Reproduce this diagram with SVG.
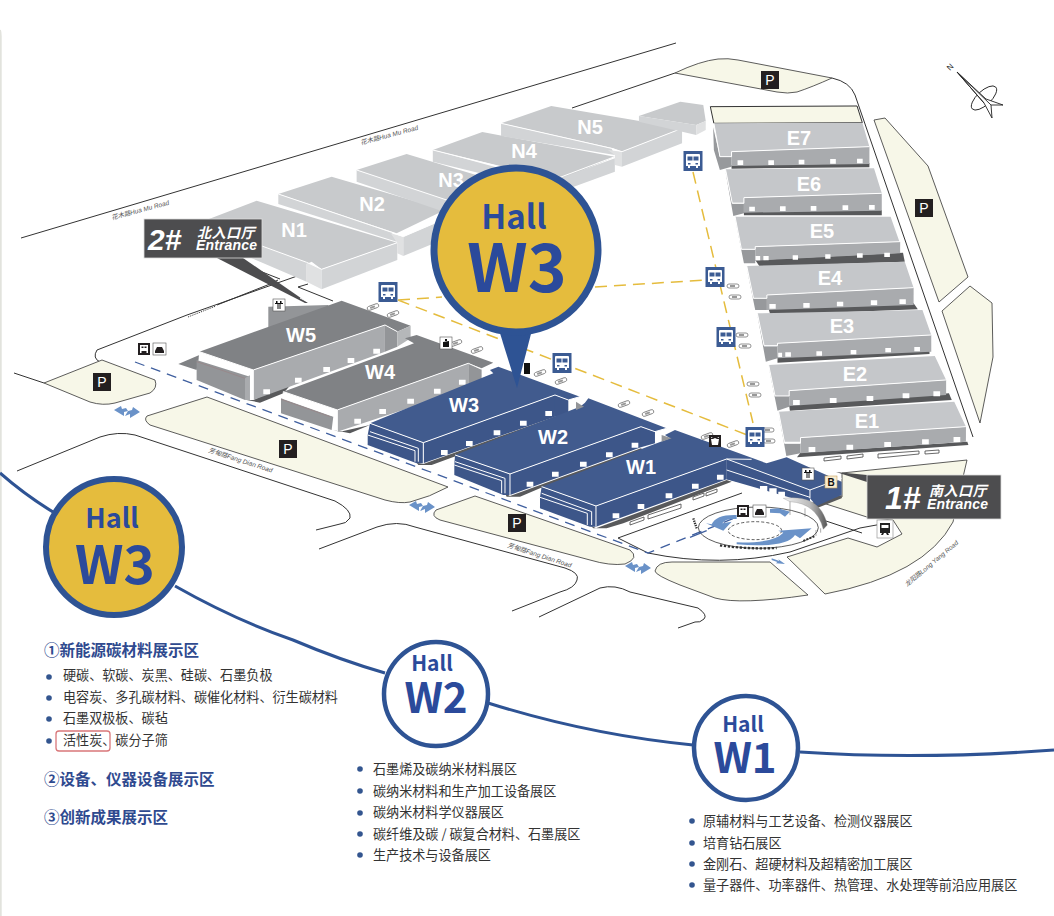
<svg xmlns="http://www.w3.org/2000/svg" width="1054" height="916" viewBox="0 0 1054 916">
<style>
.rd{fill:none;stroke:#333;stroke-width:1;vector-effect:non-scaling-stroke}
.lot{fill:#f7f7e8;stroke:#333;stroke-width:.8;vector-effect:non-scaling-stroke}
.hl{fill:none;stroke:#fff;stroke-width:1;vector-effect:non-scaling-stroke}
.ntop{fill:#c8cacc}.nfr{fill:#d2d4d6}.nst{fill:#e0e1e2}
.etop{fill:#c5c7ca}.efr{fill:#a9abae}.esd{fill:#97999c}.esh{fill:#58595b}
.wtop{fill:#808285}.wfr{fill:#a9abae}.wsd{fill:#939598}
.btop{fill:#415b8e}.bfr{fill:#3d5689}
.win{fill:#fff}
.lb{font:bold 20px "Liberation Sans",Arial,sans-serif;fill:#fff;text-anchor:middle}
.rn{font:italic 6.5px "Liberation Sans","Noto Sans CJK SC",sans-serif;fill:#555}
.t{font:13.100px "Noto Sans CJK SC",sans-serif;fill:#333}
.h{font:bold 15.500px "Noto Sans CJK SC",sans-serif;fill:#2f4a8f}
.hall{font-family:"Noto Sans CJK SC",sans-serif;font-weight:700;fill:#2b4a9b;text-anchor:middle}
.code{font-family:"Noto Sans CJK SC",sans-serif;font-weight:700;fill:#2b4a9b;text-anchor:middle}
.dot{fill:#33558f}
.ent{fill:#fff;font-style:italic;font-weight:bold;font-family:"Liberation Sans","Noto Sans CJK SC",sans-serif}
.ydash{fill:none;stroke:#e5bc3d;stroke-width:1.5;stroke-dasharray:12 7}
.pt{font:14px "Liberation Sans",Arial,sans-serif;fill:#fff;text-anchor:middle}
</style>
<defs>
<g id="bus"><rect x="-9.500" y="-10" width="19" height="20" fill="#3b5b93"/><path d="M-6-7h12q1 0 1 1v11h-2v2h-2v-2h-6v2h-2v-2h-2V-6q0-1 1-1z" fill="#fff"/><path d="M-5.500-4.500h5v4h-5zM.5-4.500h5v4h-5zM-5 2h2.500v1.500h-2.500zM2.500 2h2.500v1.500H2.500z" fill="#3b5b93"/></g>
<g id="pk"><rect x="-9" y="-9" width="18" height="18" fill="#231f20"/><text class="pt" y="5">P</text></g>
<g id="car"><rect x="-6" y="-2" width="12" height="4" rx="2" fill="#fff" stroke="#777" stroke-width=".8"/><rect x="-3" y="-1" width="5" height="2" fill="#999"/></g>
<path id="arr" d="M-13-2L-6-6L-5-3L-1-4L1-1L-3 0L-3 4ZM13 0L6-5L5-2L1-1L-2 4L3 2L3 6Z" fill="#6a92c8"/>
<linearGradient id="arc" x1="0" x2="1" y1="0" y2="0"><stop offset="0" stop-color="#f2f2f2"/><stop offset=".6" stop-color="#bbb"/><stop offset="1" stop-color="#555"/></linearGradient>
</defs>
<rect width="1054" height="916" fill="#fff"/>
<path d="M.8 916V36Q.8 32 0 30" fill="none" stroke="#e2e3dd" stroke-width="1.800"/>

<g id="roads">
<path class="rd" d="M21 238L676 43M572 108L675 73"/>
<path class="lot" d="M675 73Q700 61 718 59Q728 58 738 60L832 78Q812 87 797 92Q788 94 777 92Z"/>
<path class="rd" d="M832 78Q850 82 855 95L973 437"/>
<path class="rd" d="M187 315L97 350Q92 358 100 362L155 385M217 305L270 284M187 315L300 275M298 287L333 301M298 287L308 284M252 268L280 279M270 284L278 280"/>
<path class="rd" stroke-dasharray="1 1" d="M188 317L216 306"/>
<path class="rd" d="M14 373L44 383"/>
<path class="lot" d="M44 383L102 360L155 380Q158 388 150 393L115 403Q103 406 90 402Z"/>
<path class="lot" d="M207 397L448 487Q430 497 410 502Q400 504 385 500L150 425Q143 420 147 416Z"/>
<path class="rd" d="M17 471L100 437Q118 431 135 435L335 501Q352 510 350 518Q346 524 340 524L316 530"/>
<path class="rd" d="M319 549L377 527Q397 520 415 527L565 568Q580 573 577 580Q575 588 560 592L512 611"/>
<path class="lot" d="M475 496L436 510Q430 516 440 520L590 560Q610 566 625 564Q640 558 630 550Z"/>
<path class="rd" d="M539 617L600 588Q615 584 630 592L698 608Q708 615 704 619Q700 623 695 622L678 628"/>
<path class="lot" d="M655 571Q657 562 672 562L770 562L808 595Q740 605 715 598L680 585Q655 575 655 571Z"/>
<path class="lot" d="M787 557L848 538L877 547L902 534L893 520L870 518L823 503L842 497L842 473L967 460L960 490L953 522Q925 575 825 594Z"/>
<path class="rd" d="M618 538L742 493M618 538L648 553M648 553Q720 568 790 552L860 528L893 522"/>
<path class="rd" d="M823 520L862 533"/>
<path class="lot" d="M874 120L885 118L928 166L968 277L939 302Z"/>
<path class="lot" d="M970 286L992 303L993 357L980 423L942 311Z"/>
<path fill="none" stroke="#3f5f9f" stroke-width="1.300" stroke-dasharray="10 7" d="M135 362L648 553L737 517"/>
</g>

<g id="bus-routes"><path class="ydash" d="M398 300L442 297M398 300L750 436M595 287L705 280M693 172L753 423"/></g>

<g id="hall-N1" transform="translate(0 60) scale(.3333)">
<path class="ntop" d="M625 478L770 422L1192 548L965 628L935 605L920 612L625 505Z"/>
<path class="nfr" d="M625 500L920 607V665L780 605L625 540Z"/>
<path class="nst" d="M920 607L965 628V688L920 665Z"/>
<path class="nfr" d="M965 628L1192 548V600L965 688Z"/>
<path class="hl" d="M640 505L920 607L965 628L1192 548"/></g>
<g id="hall-N2" transform="translate(0 60) scale(.3333)">
<path class="ntop" d="M835 402L995 350L1335 450L1190 520Z"/>
<path class="nfr" d="M835 402L1175 517L1190 545L835 432Z"/>
<path class="nst" d="M1172 520L1210 530V588L1192 580V548Z"/>
<path class="nfr" d="M1210 530L1350 470V530L1210 588Z"/>
<path class="hl" d="M835 402L1175 517L1210 530L1350 470"/></g>
<g id="hall-N3" transform="translate(0 60) scale(.3333)">
<path class="ntop" d="M1070 330L1220 282L1560 385L1400 450Z"/>
<path class="nfr" d="M1070 330L1400 440L1360 465L1070 365Z"/>
<path class="hl" d="M1070 330L1400 440"/></g>
<g id="hall-N4" transform="translate(500 40) scale(.3535 .3333)">
<path class="ntop" d="M-190 330L-50 276L325 350L170 420Z"/>
<path class="nfr" d="M-190 330L140 425L100 440L-190 365Z"/>
<path class="nfr" d="M170 415L325 355V395L170 455Z"/>
<path class="hl" d="M-190 330L150 420L325 350"/></g>
<g id="hall-N5" transform="translate(500 40) scale(.3535 .3333)">
<path class="ntop" d="M3 250L145 198L515 265L345 335L320 325Z"/>
<path class="nfr" d="M3 250L315 325L325 345L3 288Z"/>
<path class="nst" d="M305 330L345 335V380L325 375V345Z"/>
<path class="nfr" d="M345 335L515 265V310L345 380Z"/>
<path class="hl" d="M3 250L315 325L345 335L515 265"/></g>
<g id="annex-N" transform="translate(500 40) scale(.3535 .3333)">
<path class="ntop" d="M393 228L510 185L575 195L582 243L555 255Z"/>
<path class="nfr" d="M393 228L555 255V285L393 245Z"/>
<path class="nst" d="M555 255L582 243V270L555 285Z"/></g>

<g id="E-halls" transform="translate(500 40) scale(.3535 .3333)">
<path d="M595 200L1010 198L1025 248L605 250Z" fill="#f7f7e8" stroke="#333" stroke-width="1" vector-effect="non-scaling-stroke"/>
<g id="hall-E7"><path class="esd" d="M603 262L622 350H655V380L622 390L605 330Z"/><path class="esh" d="M655 376L1045 370V382L655 386Z"/><path class="efr" d="M655 335L1045 320V372L655 378Z"/><path class="etop" d="M605 250L1025 248L1045 320L655 335V350H622Z"/><path class="hl" d="M605 250L622 350H655V335L1045 320"/></g>
<g id="hall-E6"><path class="esd" d="M638 395L657 490H690V520L660 528Z"/><path class="esh" d="M690 515L1080 510V526L690 526Z"/><path class="efr" d="M690 473L1080 460V512L690 518Z"/><path class="etop" d="M638 388L1058 385L1080 460L690 473V488H657Z"/><path class="hl" d="M638 388L657 490H690V473L1080 460"/></g>
<g id="hall-E5"><path class="esd" d="M665 535L683 628H722V670H690Z"/><path class="esh" d="M722 660L1140 638L1145 665L735 680Z"/><path class="efr" d="M722 620L1132 605V640L722 662Z"/><path class="etop" d="M665 530L1105 530L1130 605L722 620V630H683Z"/><path class="hl" d="M665 530L683 628H722V620L1132 605"/></g>
<g id="hall-E4"><path class="esd" d="M698 685L717 775H755V810H722Z"/><path class="esh" d="M760 808L1170 790L1182 808L765 825Z"/><path class="efr" d="M755 765L1170 743V795L755 810Z"/><path class="etop" d="M698 678L1145 665L1170 743L755 765V775H717Z"/><path class="hl" d="M698 678L717 775H755V765L1170 743"/></g>
<g id="hall-E3"><path class="esd" d="M728 825L747 917H785V955L752 965Z"/><path class="esh" d="M785 950L1215 932V942L785 968Z"/><path class="efr" d="M785 910L1220 885V935L785 955Z"/><path class="etop" d="M728 820L1195 810L1220 885L785 910V920H747Z"/><path class="hl" d="M728 820L747 917H785V910L1220 885"/></g>
<g id="hall-E2"><path class="esd" d="M760 980L778 1068H818V1100L785 1112Z"/><path class="esh" d="M818 1095L1270 1060L1278 1080L820 1112Z"/><path class="efr" d="M818 1052L1262 1020V1065L818 1098Z"/><path class="etop" d="M760 975L1230 948L1262 1020L818 1052V1068H778Z"/><path class="hl" d="M760 975L778 1068H818V1052L1262 1020"/></g>
<g id="hall-E1"><path class="esd" d="M788 1120L805 1210H850V1240L810 1248Z"/><path class="esh" d="M850 1238L1322 1205L1325 1215L840 1252Z"/><path class="efr" d="M850 1193L1318 1160V1205L850 1240Z"/><path class="etop" d="M788 1115L1285 1085L1318 1160L850 1193V1205H805Z"/><path class="hl" d="M788 1115L805 1210H850V1193L1318 1160"/></g>
<path class="win" d="M672 361h16v14h-16zM759 361h16v14h-16zM845 359h16v14h-16zM934 357h16v14h-16zM1010 356h16v14h-16zM705 500h16v14h-16zM792 499h16v14h-16zM879 498h16v14h-16zM969 496h16v14h-16zM1044 495h16v14h-16zM723 648h13v13h-13zM745 648h15v13h-15zM828 646h15v13h-15zM920 643h15v13h-15zM1010 640h16v13h-16zM1087 638h16v13h-16zM762 792h18v14h-18zM858 789h18v14h-18zM953 785h18v14h-18zM1049 781h18v14h-18zM1130 778h18v14h-18zM787 938h11v13h-11zM807 937h16v13h-16zM895 934h16v13h-16zM992 930h16v13h-16zM1090 924h16v13h-16zM1172 921h16v13h-16zM829 1080h19v15h-19zM933 1074h19v15h-19zM1037 1068h19v15h-19zM1139 1060h19v15h-19zM1226 1054h19v15h-19zM873 1221h19v15h-19zM980 1214h19v15h-19zM1087 1206h19v15h-19zM1194 1198h19v15h-19zM1283 1191h19v15h-19z"/>
</g>
<g id="apron" fill="#fff" stroke="#444" stroke-width=".8"><path d="M824 458l17-2v3l-17 2zM847 456l16-2v3l-16 2zM878 454l41-3v3l-41 4zM925 451l14-1v3l-14 1z"/><path d="M630 522l14-5 0 3-14 5zM648 515l33-11v4l-33 11zM693 497l11-4 0 3-11 4zM706 493l11-4 0 3-11 4z"/></g>

<g id="hall-W5" transform="translate(0 60) scale(.3333)">
<path class="wsd" d="M805 740L985 735V780L805 810Z"/>
<path class="wtop" d="M535 912L598 885L590 930Z"/>
<path fill="#58595b" d="M740 1020L760 1020L885 960L850 1000L780 1028Z"/>
<path class="wtop" d="M598 875L1025 722L1232 797L1192 815L1155 795L760 930Z"/>
<path class="wfr" d="M760 930L1155 795V875L760 1020Z"/>
<path class="wsd" d="M1155 795L1192 815V860L1155 875Z"/>
<path fill="#b5b7b9" d="M1192 815L1232 797V835L1192 860Z"/>
<path class="wsd" d="M590 900L750 950L735 1020L590 960Z"/>
<path fill="none" stroke="#a55" stroke-width=".6" d="M590 905L735 955"/>
<path class="wfr" d="M735 955L750 945V1020H735Z"/>
<path class="hl" d="M598 875L760 930L1155 795L1192 815M760 930V1020M598 875V895L750 945"/>
<path class="win" d="M790 988h20v15h-20zM885 953h20v15h-20zM970 921h20v15h-20zM1043 894h20v15h-20zM1120 866h20v15h-20z"/></g>
<g id="hall-W4" transform="translate(0 60) scale(.3333)">
<path fill="#58595b" d="M1000 1110L1020 1115L1110 1095L1050 1120Z"/>
<path class="wtop" d="M850 995L1215 860L1242 850L1215 835L1250 825L1480 908L1445 925L1405 910L1012 1050Z"/>
<path class="wfr" d="M1012 1050L1405 910V985L1012 1115Z"/>
<path class="wsd" d="M1405 910L1445 928V960L1405 985Z"/>
<path class="wsd" d="M843 1015L1000 1070L995 1110L843 1060Z"/>
<path fill="none" stroke="#a55" stroke-width=".6" d="M843 1018L990 1070"/>
<path class="hl" d="M850 995L1012 1050L1405 910L1445 928M1012 1050V1115M850 995V1015L1000 1068"/>
<path class="win" d="M1063 1076h20v15h-20zM1138 1047h20v15h-20zM1222 1016h20v15h-20zM1302 986h20v15h-20zM1377 959h20v15h-20z"/></g>
<g id="hall-W3" transform="translate(360 360) scale(.3333)">
<path fill="#58595b" d="M170 308L190 312L585 170L590 178L270 295L215 315H175Z"/>
<path class="btop" d="M30 190L400 40L390 30L415 20L660 110L625 120L585 105L190 248Z"/>
<path class="bfr" d="M190 248L585 105V170L190 310Z"/>
<path class="bfr" d="M585 105L625 120V170L585 170Z"/>
<path class="bfr" d="M23 225L30 190L190 248V310H170L23 255Z"/>
<path class="hl" d="M30 190L190 248L585 105L625 120L660 110M190 248V310M30 215L175 265M23 225L165 272V305M175 265V305"/>
<path class="win" d="M243 270h20v15h-20zM318 243h20v15h-20zM401 211h20v15h-20zM480 182h20v15h-20zM556 153h20v15h-20z"/></g>
<g id="hall-W2" transform="translate(360 360) scale(.3333)">
<path fill="#58595b" d="M435 400L450 408L843 265L850 270L540 385L480 410H440Z"/>
<path class="btop" d="M285 285L660 140L675 128L685 115L920 205L885 215L843 200L450 342Z"/>
<path fill="#939598" d="M648 125L672 140L648 150Z"/>
<path class="bfr" d="M450 342L843 200V262L450 405Z"/>
<path class="bfr" d="M843 200L885 215V250L843 262Z"/>
<path class="bfr" d="M283 315L285 285L450 342V405H430L283 345Z"/>
<path class="hl" d="M285 285L450 342L843 200L885 215L920 205M450 342V405M285 305L435 355M283 315L425 362V400M435 355V400"/>
<path class="win" d="M500 365h20v15h-20zM576 335h20v15h-20zM660 305h20v15h-20zM738 277h20v15h-20zM815 248h20v15h-20z"/></g>
<g id="hall-W1" transform="translate(360 360) scale(.3333)">
<path fill="#58595b" d="M690 495L708 505L1100 360L1115 365L790 490L740 505H700Z"/>
<path fill="#58595b" d="M1350 430L1445 405V415L1370 445Z"/>
<path class="btop" d="M545 380L930 235L915 225L945 210L1220 310L1280 292L1445 365V405L1370 438L1350 415L1100 358V297L708 438Z"/>
<path fill="#939598" d="M905 225L935 235L905 245Z"/>
<path class="bfr" d="M708 438L1100 297V358L708 500Z"/>
<path class="bfr" d="M540 412L545 380L708 438V500H690L540 445Z"/>
<path class="bfr" d="M1100 297L1350 390V430L1100 358Z"/>
<path class="hl" d="M545 380L708 438L1100 297L1350 390L1445 355M1350 390V415M708 438V500M545 400L695 455M540 412L682 460V495M695 455V495M1100 330L1350 412M1100 297L1175 298"/>
<path class="win" d="M758 460h20v15h-20zM833 432h20v15h-20zM917 400h20v15h-20zM996 371h20v15h-20zM1071 344h20v15h-20zM1200 378h22v20h-22zM1228 385h22v20h-22zM1255 395h20v18h-20z"/></g>

<g id="roundabout" transform="translate(690 460) scale(.3333)">
<ellipse cx="205" cy="203" rx="180" ry="62" fill="none" stroke="#333" stroke-width="2.400"/>
<ellipse cx="195" cy="212" rx="80" ry="27" fill="none" stroke="#333" stroke-width="2.400" stroke-dasharray="9 6"/>
<path d="M0 232L50 212" fill="none" stroke="#3f5f9f" stroke-width="4"/>
<path d="M140 165Q78 163 65 193L48 190L100 212L125 185L97 190Q105 175 140 177Z" fill="#6a92c8"/>
<path d="M140 247Q250 250 280 218L265 212L365 205L330 235L315 225Q290 265 140 253Z" fill="#6a92c8"/>
<path d="M240 147L265 145L300 155L285 170L270 160L240 158Z" fill="#6a92c8"/>
<path d="M280 115Q390 100 412 195L400 208Q380 130 300 125Z" fill="url(#arc)" stroke="#888" stroke-width="1"/>
<path d="M90 256Q170 268 260 264" fill="none" stroke="#333" stroke-width="7" stroke-dasharray="7 5"/>
<path d="M10 175L20 205" fill="none" stroke="#333" stroke-width="7" stroke-dasharray="4 3"/>
<path d="M340 243L375 228" fill="none" stroke="#333" stroke-width="6" stroke-dasharray="6 4"/>
<path d="M300 125V165M345 145V170M378 210V228M392 205V218" fill="none" stroke="#555" stroke-width="1.500"/>
<path d="M245 295L268 303L265 298L285 312L258 310L262 306L245 300Z" fill="#6a92c8"/>
</g>

<g id="cars">
<use href="#car" transform="translate(373 307) rotate(-20)"/><use href="#car" transform="translate(393 314) rotate(-20)"/><use href="#car" transform="translate(456 343) rotate(-20)"/><use href="#car" transform="translate(477 350) rotate(-20)"/><use href="#car" transform="translate(540 373) rotate(-20)"/><use href="#car" transform="translate(561 381) rotate(-20)"/><use href="#car" transform="translate(624 404) rotate(-20)"/><use href="#car" transform="translate(648 413) rotate(-20)"/><use href="#car" transform="translate(707 436) rotate(-20)"/><use href="#car" transform="translate(733 444) rotate(-20)"/>
<use href="#car" transform="translate(733 286)"/><use href="#car" transform="translate(735 297)"/><use href="#car" transform="translate(742 335)"/><use href="#car" transform="translate(745 346)"/><use href="#car" transform="translate(753 384)"/><use href="#car" transform="translate(755 395)"/><use href="#car" transform="translate(768 430)"/><use href="#car" transform="translate(769 441)"/>
</g>

<g id="road-arrows"><use href="#arr" transform="translate(127 412)"/><use href="#arr" transform="translate(422 507)"/><use href="#arr" transform="translate(638 568)"/></g>

<g id="icons">
<use href="#bus" x="388" y="292"/><use href="#bus" x="693" y="161"/><use href="#bus" x="715" y="277"/><use href="#bus" x="726" y="337"/><use href="#bus" x="562" y="363"/><use href="#bus" x="755" y="437"/>
<use href="#pk" x="770" y="80"/><use href="#pk" x="924" y="208"/><use href="#pk" x="102" y="382"/><use href="#pk" x="288" y="449"/><use href="#pk" x="517" y="523"/>
<g id="ic-trans1"><rect x="138" y="343" width="12" height="12" fill="#231f20"/><path d="M140 345h8v8h-1.500v-2h-5v2H140zM141.500 346.500v1.500h2v-1.500zM144.500 346.500v1.500h2v-1.500z" fill="#fff" fill-rule="evenodd"/><rect x="153" y="343" width="13" height="12" fill="#fff" stroke="#555" stroke-width=".6"/><path d="M155 351l2-4h5l2 4v2h-9z" fill="#231f20"/></g>
<g id="ic-trans2"><rect x="737" y="505" width="12" height="12" fill="#231f20"/><path d="M739 507h8v8h-1.500v-2h-5v2H739zM740.500 508.500v1.500h2v-1.500zM743.500 508.500v1.500h2v-1.500z" fill="#fff" fill-rule="evenodd"/><rect x="753" y="505" width="13" height="12" fill="#fff" stroke="#555" stroke-width=".6"/><path d="M755 513l2-4h5l2 4v2h-9z" fill="#231f20"/></g>
<g id="ic-lift1"><rect x="273" y="299" width="12" height="12" fill="#fff" stroke="#555" stroke-width=".6"/><path d="M275 303h8v1h-2.500v5h-1v-5h-1v5h-1v-5H275zM276 301h1.500v2H276zM280 301h1.500v2H280z" fill="#111"/></g>
<g id="ic-lift2"><rect x="802" y="468" width="12" height="12" fill="#fff" stroke="#555" stroke-width=".6"/><path d="M804 472h8v1h-2.500v5h-1v-5h-1v5h-1v-5H804zM805 470h1.500v2H805zM809 470h1.500v2H809z" fill="#111"/></g>
<g id="ic-info"><rect x="440" y="337" width="12" height="12" fill="#fff" stroke="#555" stroke-width=".6"/><path d="M443 342l6-1v6h-6zM445 339h2v2h-2z" fill="#111"/></g>
<g id="ic-food"><rect x="709" y="435" width="12" height="12" fill="#231f20"/><path d="M711 439h8l-1 6h-6zM711 437l4 2 4-2v1h-8z" fill="#fff"/></g>
<rect id="ic-n" x="524" y="363" width="6" height="11" fill="#111"/>
<g id="ic-b"><rect x="825" y="476" width="12" height="12" fill="#f7ecd0" stroke="#c9a15a" stroke-width=".6"/><text x="831" y="486" font-family="Liberation Sans" font-weight="bold" font-size="10" text-anchor="middle" fill="#111">B</text></g>
<g id="ic-metro"><rect x="877" y="520" width="16" height="18" fill="#fff" stroke="#888" stroke-width=".6"/><path d="M880 523h10v10h-2l1 2h-2l-1-2h-2l-1 2h-2l1-2h-2z" fill="#222"/><path d="M881.500 525h7v3h-7z" fill="#fff"/></g>
</g>

<g id="road-names">
<text class="rn" transform="translate(112 220) rotate(-15)">花木路Hua Mu Road</text>
<text class="rn" transform="translate(361 145) rotate(-15)">花木路Hua Mu Road</text>
<text class="rn" transform="translate(208 452) rotate(18)">芳甸路Fang Dian Road</text>
<text class="rn" transform="translate(507 547) rotate(18)">芳甸路Fang Dian Road</text>
<text class="rn" transform="translate(907 587) rotate(-40)">龙阳路Long Yang Road</text>
</g>

<g id="compass" fill="#fff" stroke="#222" stroke-width=".9">
<ellipse cx="984" cy="98" rx="16" ry="7" transform="rotate(-43 984 98)"/>
<path d="M957 72L986 99L1003 105L991 105L992 118L984 103Z"/><path d="M957 72L984 103M957 72L991 105" fill="none"/>
</g>
<text x="950" y="71" transform="rotate(-45 950 71)" font-family="Liberation Sans" font-size="8" fill="#222">N</text>

<g id="labels-halls">
<text class="lb" x="294" y="237">N1</text><text class="lb" x="372" y="211">N2</text><text class="lb" x="451" y="187">N3</text><text class="lb" x="524" y="158">N4</text><text class="lb" x="590" y="134">N5</text>
<text class="lb" x="301" y="342">W5</text><text class="lb" x="380" y="379">W4</text><text class="lb" x="464" y="412">W3</text><text class="lb" x="553" y="444">W2</text><text class="lb" x="641" y="474">W1</text>
<text class="lb" x="799" y="145">E7</text><text class="lb" x="809" y="191">E6</text><text class="lb" x="822" y="238">E5</text><text class="lb" x="830" y="285">E4</text><text class="lb" x="842" y="333">E3</text><text class="lb" x="855" y="381">E2</text><text class="lb" x="867" y="428">E1</text>
</g>

<g id="entrance-2">
<path d="M217 258L243 258L308 303L305 303Z" fill="#4d4d4f"/>
<path d="M300 298L308 302" stroke="#fff" stroke-width="1"/>
<rect x="144" y="219" width="118" height="39" fill="#4d4d4f" stroke="#ddd" stroke-width=".8"/>
<text class="ent" x="148" y="250" font-size="30">2#</text>
<text class="ent" x="197" y="238" font-size="14" letter-spacing=".5" font-weight="normal">北入口厅</text>
<text class="ent" x="196" y="250" font-size="14" textLength="61">Entrance</text>
</g>
<g id="entrance-1">
<path d="M836 472L867 475V482Z" fill="#4d4d4f"/>
<rect x="867" y="475" width="134" height="44" fill="#4d4d4f" stroke="#ddd" stroke-width=".8"/>
<text class="ent" x="885" y="509" font-size="32">1#</text>
<text class="ent" x="929" y="496" font-size="14" letter-spacing=".5" font-weight="normal">南入口厅</text>
<text class="ent" x="927" y="509" font-size="14" textLength="61">Entrance</text>
</g>

<g id="pin-W3">
<path d="M499 330L532 330L517 388Z" fill="#2e5394"/>
<circle cx="516" cy="250" r="82" fill="#e5bc3d" stroke="#2e5394" stroke-width="7"/>
<text class="hall" x="514" y="229" font-size="33">Hall</text>
<text class="code" x="517" y="292" font-size="66">W3</text>
</g>

<g id="timeline"><path d="M0 473Q25 495 53 512M175 586Q235 620 293 640Q340 660 385 673M488 703Q590 735 693 745M800 752Q920 760 1054 750" fill="none" stroke="#2e5394" stroke-width="3"/></g>
<g id="badge-W3"><circle cx="114" cy="547" r="68" fill="#e5bc3d" stroke="#2e5394" stroke-width="6"/><text class="hall" x="112" y="528" font-size="27">Hall</text><text class="code" x="115" y="584" font-size="53">W3</text></g>
<g id="badge-W2"><circle cx="436" cy="694" r="52" fill="#fff" stroke="#2e5394" stroke-width="4.500"/><text class="hall" x="432" y="671" font-size="21">Hall</text><text class="code" x="436" y="713" font-size="42">W2</text></g>
<g id="badge-W1"><circle cx="746" cy="748" r="52" fill="#fff" stroke="#2e5394" stroke-width="4.500"/><text class="hall" x="743" y="732" font-size="21">Hall</text><text class="code" x="745" y="773" font-size="42">W1</text></g>

<g id="list-W3">
<text class="h" x="44" y="656">①新能源碳材料展示区</text>
<circle class="dot" cx="49" cy="677" r="2.800"/><text class="t" x="63" y="680">硬碳、软碳、炭黑、硅碳、石墨负极</text>
<circle class="dot" cx="49" cy="698" r="2.800"/><text class="t" x="63" y="702">电容炭、多孔碳材料、碳催化材料、衍生碳材料</text>
<circle class="dot" cx="49" cy="719" r="2.800"/><text class="t" x="63" y="723">石墨双极板、碳毡</text>
<circle class="dot" cx="49" cy="741" r="2.800"/><rect x="56" y="731" width="54" height="20" rx="3" fill="none" stroke="#d9777a" stroke-width="1.300"/><text class="t" x="63" y="745">活性炭、碳分子筛</text>
<text class="h" x="44" y="785">②设备、仪器设备展示区</text>
<text class="h" x="44" y="823">③创新成果展示区</text>
</g>
<g id="list-W2">
<circle class="dot" cx="360" cy="769" r="2.800"/><text class="t" x="373" y="774">石墨烯及碳纳米材料展区</text>
<circle class="dot" cx="360" cy="791" r="2.800"/><text class="t" x="373" y="796">碳纳米材料和生产加工设备展区</text>
<circle class="dot" cx="360" cy="813" r="2.800"/><text class="t" x="373" y="817">碳纳米材料学仪器展区</text>
<circle class="dot" cx="360" cy="834" r="2.800"/><text class="t" x="373" y="839">碳纤维及碳 / 碳复合材料、石墨展区</text>
<circle class="dot" cx="360" cy="855" r="2.800"/><text class="t" x="373" y="860">生产技术与设备展区</text>
</g>
<g id="list-W1">
<circle class="dot" cx="692" cy="821" r="2.800"/><text class="t" x="703" y="826">原辅材料与工艺设备、检测仪器展区</text>
<circle class="dot" cx="692" cy="843" r="2.800"/><text class="t" x="703" y="848">培育钻石展区</text>
<circle class="dot" cx="692" cy="864" r="2.800"/><text class="t" x="703" y="869">金刚石、超硬材料及超精密加工展区</text>
<circle class="dot" cx="692" cy="885" r="2.800"/><text class="t" x="703" y="890">量子器件、功率器件、热管理、水处理等前沿应用展区</text>
</g>
</svg>
